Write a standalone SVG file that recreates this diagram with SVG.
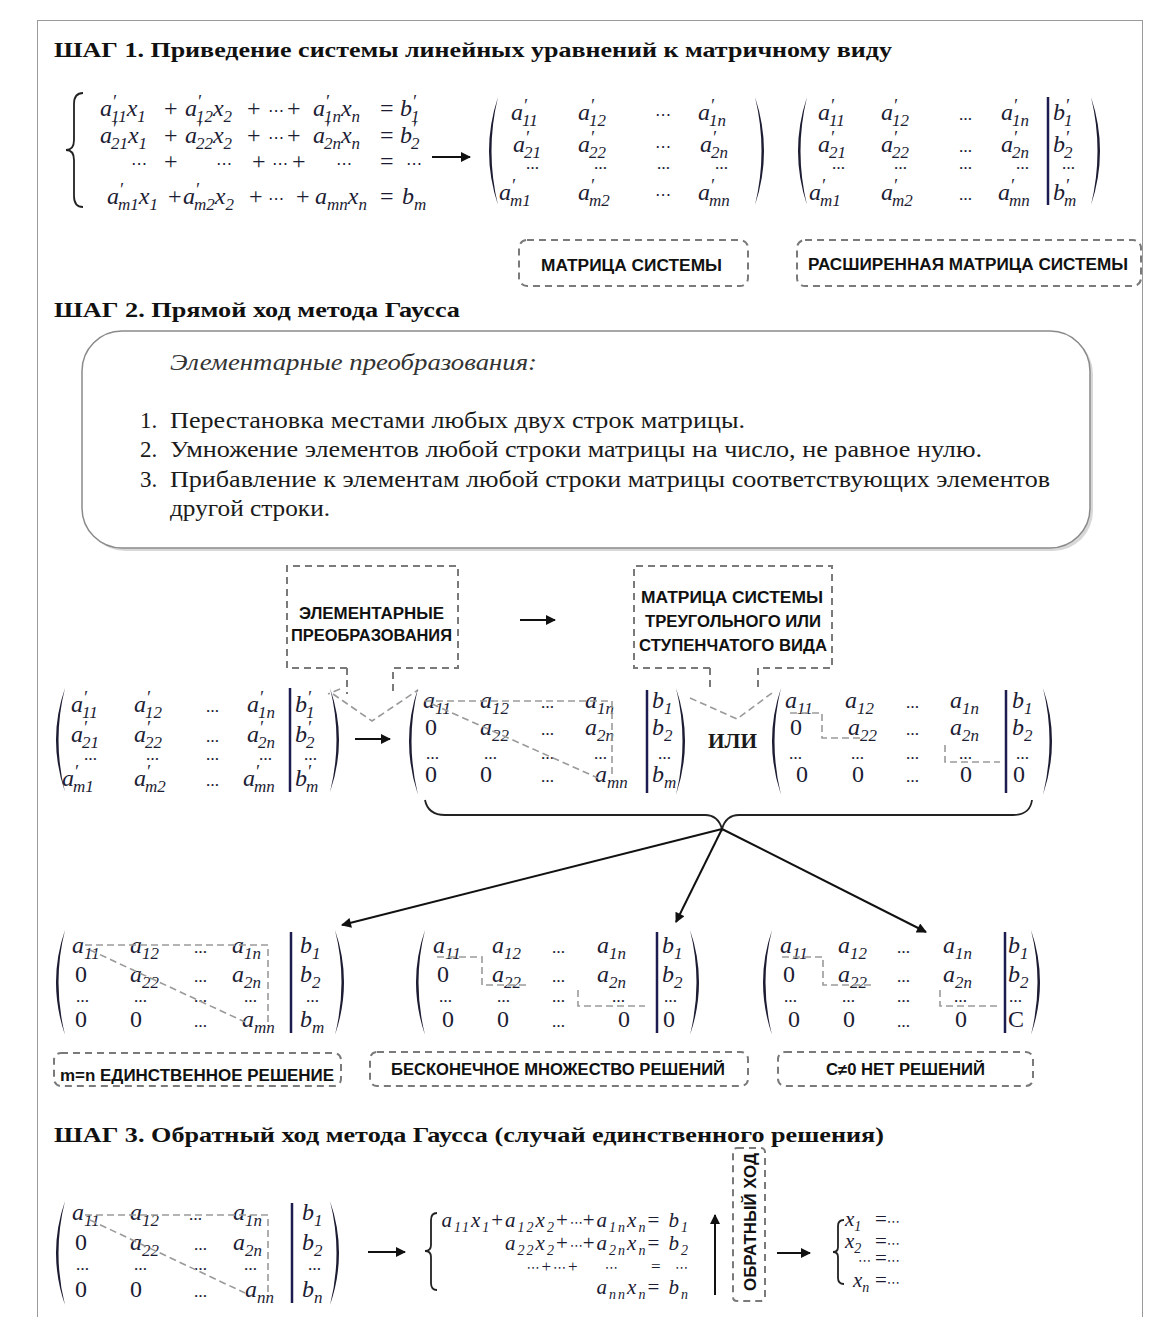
<svg xmlns="http://www.w3.org/2000/svg" width="1153" height="1317" viewBox="0 0 1153 1317">
<defs>
<marker id="ah" viewBox="0 0 10 10" refX="9" refY="5" markerWidth="12" markerHeight="10" orient="auto" markerUnits="userSpaceOnUse"><path d="M0,0 L10,5 L0,10 z" fill="#111"/></marker>
<style>
.h{font-family:"Liberation Serif",serif;font-weight:bold;font-size:22px;fill:#111}
.m{font-family:"Liberation Serif","DejaVu Serif",serif;font-style:italic;font-size:24px;fill:#1c1c33}
.sm{font-size:21px}
.u{font-style:normal}
.s{font-size:17px;baseline-shift:-6px}
.s2{font-size:14px;baseline-shift:-5px}
.p{font-size:18px;baseline-shift:8px}
.d{font-family:"Liberation Serif",serif;font-style:normal;font-weight:bold;font-size:13px;fill:#1c1c33}
.c{font-family:"DejaVu Sans",sans-serif;font-style:normal;font-size:16px;fill:#1c1c33}
.c2{font-family:"DejaVu Sans",sans-serif;font-style:normal;font-size:13px}
.lb{font-family:"Liberation Sans",sans-serif;font-weight:bold;font-size:16px;fill:#111}
.db{fill:none;stroke:#7a7a7a;stroke-width:2;stroke-dasharray:7 5}
.dl{fill:none;stroke:#9a9a9a;stroke-width:1.6;stroke-dasharray:7 4}
.pr{fill:#1c1c33}
.bar{stroke:#1c1c50;stroke-width:2.5}
.ar{stroke:#111;stroke-width:2;fill:none}
.br{fill:none;stroke:#222;stroke-width:1.8}
.t{font-family:"Liberation Serif",serif;font-size:23px;fill:#1a1a1a}
</style>
</defs>
<rect x="0" y="0" width="1153" height="1317" fill="#fff"/>
<rect x="37.5" y="20.5" width="1105" height="1310" fill="none" stroke="#9a9a9a" stroke-width="1"/>

<!-- Headings -->
<text id="h1" class="h" x="54" y="57" textLength="838" lengthAdjust="spacingAndGlyphs">ШАГ 1. Приведение системы линейных уравнений к матричному виду</text>
<text id="h2" class="h" x="54" y="317" textLength="406" lengthAdjust="spacingAndGlyphs">ШАГ 2. Прямой ход метода Гаусса</text>
<text id="h3" class="h" x="54" y="1142" textLength="830" lengthAdjust="spacingAndGlyphs">ШАГ 3. Обратный ход метода Гаусса (случай единственного  решения)</text>

<!-- STEP 1 system -->
<g id="system1">
<path class="br" d="M83,93 Q74,93 74,104 L74,140 Q74,150 66,150 Q74,150 74,160 L74,196 Q74,207 83,207"/>
<text class="m"><tspan x="100" y="116">a</tspan><tspan class="p">′</tspan><tspan class="s" dx="-5">11</tspan>x<tspan class="s">1</tspan><tspan x="164" class="u">+</tspan><tspan x="185">a</tspan><tspan class="p">′</tspan><tspan class="s" dx="-5">12</tspan>x<tspan class="s">2</tspan><tspan x="247" class="u">+</tspan><tspan x="268" class="c">⋯</tspan><tspan x="287" class="u">+</tspan><tspan x="313">a</tspan><tspan class="p">′</tspan><tspan class="s" dx="-5">1n</tspan>x<tspan class="s">n</tspan><tspan x="380" class="u">=</tspan><tspan x="400">b</tspan><tspan class="p">′</tspan><tspan class="s" dx="-5">1</tspan><tspan x="100" y="143">a</tspan><tspan class="p">′</tspan><tspan class="s" dx="-5">21</tspan>x<tspan class="s">1</tspan><tspan x="164" class="u">+</tspan><tspan x="185">a</tspan><tspan class="p">′</tspan><tspan class="s" dx="-5">22</tspan>x<tspan class="s">2</tspan><tspan x="247" class="u">+</tspan><tspan x="268" class="c">⋯</tspan><tspan x="287" class="u">+</tspan><tspan x="313">a</tspan><tspan class="p">′</tspan><tspan class="s" dx="-5">2n</tspan>x<tspan class="s">n</tspan><tspan x="380" class="u">=</tspan><tspan x="400">b</tspan><tspan class="p">′</tspan><tspan class="s" dx="-5">2</tspan><tspan x="131" y="169" class="c">⋯</tspan><tspan x="164" class="u">+</tspan><tspan x="216" class="c">⋯</tspan><tspan x="252" class="u">+</tspan><tspan x="272" class="c">⋯</tspan><tspan x="292" class="u">+</tspan><tspan x="336" class="c">⋯</tspan><tspan x="380" class="u">=</tspan><tspan x="406" class="c">⋯</tspan><tspan x="107" y="204">a</tspan><tspan class="p">′</tspan><tspan class="s" dx="-5">m1</tspan>x<tspan class="s">1</tspan><tspan x="168" class="u">+</tspan><tspan x="183">a</tspan><tspan class="p">′</tspan><tspan class="s" dx="-5">m2</tspan>x<tspan class="s">2</tspan><tspan x="249" class="u">+</tspan><tspan x="268" class="c">⋯</tspan><tspan x="296" class="u">+</tspan><tspan x="315">a</tspan><tspan class="s">mn</tspan>x<tspan class="s">n</tspan><tspan x="380" class="u">=</tspan><tspan x="402">b</tspan><tspan class="s">m</tspan></text>
</g>

<!-- STEP 1 matrix -->
<g id="matrix1">
<path class="pr" d="M498,97 Q480,151 498,205 Q485,151 498,97 Z"/>
<path class="pr" d="M755,97 Q773,151 755,205 Q768,151 755,97 Z"/>
<text class="m"><tspan x="511" y="120">a</tspan><tspan class="p">′</tspan><tspan class="s" dx="-5">11</tspan><tspan x="578">a</tspan><tspan class="p">′</tspan><tspan class="s" dx="-5">12</tspan><tspan x="655" class="c">⋯</tspan><tspan x="698">a</tspan><tspan class="p">′</tspan><tspan class="s" dx="-5">1n</tspan><tspan x="513" y="152">a</tspan><tspan class="p">′</tspan><tspan class="s" dx="-5">21</tspan><tspan x="578">a</tspan><tspan class="p">′</tspan><tspan class="s" dx="-5">22</tspan><tspan x="655" class="c">⋯</tspan><tspan x="700">a</tspan><tspan class="p">′</tspan><tspan class="s" dx="-5">2n</tspan><tspan x="526" y="169" class="d">…</tspan><tspan x="594" class="d">…</tspan><tspan x="657" class="d">…</tspan><tspan x="715" class="d">…</tspan><tspan x="499" y="200">a</tspan><tspan class="p">′</tspan><tspan class="s" dx="-5">m1</tspan><tspan x="578">a</tspan><tspan class="p">′</tspan><tspan class="s" dx="-5">m2</tspan><tspan x="655" class="c">⋯</tspan><tspan x="698">a</tspan><tspan class="p">′</tspan><tspan class="s" dx="-5">mn</tspan></text>
</g>

<!-- STEP 1 augmented matrix -->
<g id="matrix2">
<path class="pr" d="M807,97 Q789,151 807,205 Q794,151 807,97 Z"/>
<path class="pr" d="M1091,97 Q1109,151 1091,205 Q1104,151 1091,97 Z"/>
<line class="bar" x1="1048" y1="97" x2="1048" y2="205"/>
<text class="m"><tspan x="818" y="120">a</tspan><tspan class="p">′</tspan><tspan class="s" dx="-5">11</tspan><tspan x="881">a</tspan><tspan class="p">′</tspan><tspan class="s" dx="-5">12</tspan><tspan x="959" class="d">…</tspan><tspan x="1001">a</tspan><tspan class="p">′</tspan><tspan class="s" dx="-5">1n</tspan><tspan x="1053">b</tspan><tspan class="p">′</tspan><tspan class="s" dx="-5">1</tspan><tspan x="818" y="152">a</tspan><tspan class="p">′</tspan><tspan class="s" dx="-5">21</tspan><tspan x="881">a</tspan><tspan class="p">′</tspan><tspan class="s" dx="-5">22</tspan><tspan x="959" class="d">…</tspan><tspan x="1001">a</tspan><tspan class="p">′</tspan><tspan class="s" dx="-5">2n</tspan><tspan x="1053">b</tspan><tspan class="p">′</tspan><tspan class="s" dx="-5">2</tspan><tspan x="832" y="169" class="d">…</tspan><tspan x="894" class="d">…</tspan><tspan x="959" class="d">…</tspan><tspan x="1016" class="d">…</tspan><tspan x="1062" class="d">…</tspan><tspan x="809" y="200">a</tspan><tspan class="p">′</tspan><tspan class="s" dx="-5">m1</tspan><tspan x="881">a</tspan><tspan class="p">′</tspan><tspan class="s" dx="-5">m2</tspan><tspan x="959" class="d">…</tspan><tspan x="998">a</tspan><tspan class="p">′</tspan><tspan class="s" dx="-5">mn</tspan><tspan x="1053">b</tspan><tspan class="p">′</tspan><tspan class="s" dx="-5">m</tspan></text>
</g>

<g id="label-matrix">
<rect class="db" x="519" y="240" width="229" height="46" rx="8"/>
<text class="lb" x="541" y="271" textLength="181" lengthAdjust="spacingAndGlyphs">МАТРИЦА СИСТЕМЫ</text>
</g>
<g id="label-augmented">
<rect class="db" x="797" y="240" width="344" height="46" rx="8"/>
<text class="lb" x="808" y="270" textLength="320" lengthAdjust="spacingAndGlyphs">РАСШИРЕННАЯ МАТРИЦА СИСТЕМЫ</text>
</g>

<!-- STEP 2 box -->
<g id="transformations">
<rect x="85" y="334" width="1008" height="217" rx="40" fill="#d8d8d8"/>
<rect x="82" y="331" width="1008" height="217" rx="40" fill="#fff" stroke="#8a8a8a" stroke-width="1.5"/>
<text x="170" y="370" font-family="Liberation Serif, serif" font-style="italic" font-size="24" fill="#333" textLength="367" lengthAdjust="spacingAndGlyphs">Элементарные преобразования:</text>
<text class="t" x="140" y="428">1.</text>
<text class="t" x="170" y="428" textLength="575" lengthAdjust="spacingAndGlyphs">Перестановка местами любых двух строк  матрицы.</text>
<text class="t" x="140" y="457">2.</text>
<text class="t" x="170" y="457" textLength="812" lengthAdjust="spacingAndGlyphs">Умножение элементов любой строки матрицы на число, не равное нулю.</text>
<text class="t" x="140" y="487">3.</text>
<text class="t" x="170" y="487" textLength="880" lengthAdjust="spacingAndGlyphs">Прибавление к элементам любой строки матрицы соответствующих  элементов</text>
<text class="t" x="170" y="516" textLength="160" lengthAdjust="spacingAndGlyphs">другой строки.</text>
</g>

<!-- callouts -->
<g id="callout-elementary">
<path class="db" d="M347,668 H287 V566 H458 V668 H393 V692 M347,668 V694"/>
<path class="dl" d="M340,689 L328,694 M333,694 L372,721 L418,690"/>
<text class="lb" x="299" y="619" textLength="145" lengthAdjust="spacingAndGlyphs">ЭЛЕМЕНТАРНЫЕ</text>
<text class="lb" x="291" y="641" textLength="161" lengthAdjust="spacingAndGlyphs">ПРЕОБРАЗОВАНИЯ</text>
</g>
<g id="callout-triangular">
<path class="db" d="M710,668 H634 V566 H832 V668 H758 V690 M710,668 V692"/>
<path class="dl" d="M690,698 L737,719 L772,693"/>
<text class="lb" x="641" y="603" textLength="182" lengthAdjust="spacingAndGlyphs">МАТРИЦА СИСТЕМЫ</text>
<text class="lb" x="645" y="627" textLength="176" lengthAdjust="spacingAndGlyphs">ТРЕУГОЛЬНОГО ИЛИ</text>
<text class="lb" x="639" y="651" textLength="188" lengthAdjust="spacingAndGlyphs">СТУПЕНЧАТОГО ВИДА</text>
</g>

<!-- mid matrix A (augmented, primes) -->
<g id="matrix-a">
<path class="pr" d="M65,688 Q47,740 65,792 Q52,740 65,688 Z"/>
<path class="pr" d="M330,688 Q348,740 330,792 Q343,740 330,688 Z"/>
<line class="bar" x1="290" y1="688" x2="290" y2="792"/>
<text class="m"><tspan x="71" y="712">a</tspan><tspan class="p">′</tspan><tspan class="s" dx="-5">11</tspan><tspan x="134">a</tspan><tspan class="p">′</tspan><tspan class="s" dx="-5">12</tspan><tspan x="206" class="d">…</tspan><tspan x="247">a</tspan><tspan class="p">′</tspan><tspan class="s" dx="-5">1n</tspan><tspan x="295">b</tspan><tspan class="p">′</tspan><tspan class="s" dx="-5">1</tspan><tspan x="71" y="742">a</tspan><tspan class="p">′</tspan><tspan class="s" dx="-5">21</tspan><tspan x="134">a</tspan><tspan class="p">′</tspan><tspan class="s" dx="-5">22</tspan><tspan x="206" class="d">…</tspan><tspan x="247">a</tspan><tspan class="p">′</tspan><tspan class="s" dx="-5">2n</tspan><tspan x="295">b</tspan><tspan class="p">′</tspan><tspan class="s" dx="-5">2</tspan><tspan x="84" y="760" class="d">…</tspan><tspan x="146" class="d">…</tspan><tspan x="206" class="d">…</tspan><tspan x="259" class="d">…</tspan><tspan x="304" class="d">…</tspan><tspan x="62" y="786">a</tspan><tspan class="p">′</tspan><tspan class="s" dx="-5">m1</tspan><tspan x="134">a</tspan><tspan class="p">′</tspan><tspan class="s" dx="-5">m2</tspan><tspan x="206" class="d">…</tspan><tspan x="243">a</tspan><tspan class="p">′</tspan><tspan class="s" dx="-5">mn</tspan><tspan x="295">b</tspan><tspan class="p">′</tspan><tspan class="s" dx="-5">m</tspan></text>
</g>

<!-- mid matrix B (triangular) -->
<g id="matrix-b">
<path class="pr" d="M418,688 Q400,741 418,795 Q405,741 418,688 Z"/>
<path class="pr" d="M676,688 Q694,741 676,795 Q689,741 676,688 Z"/>
<line class="bar" x1="647" y1="690" x2="647" y2="793"/>
<text class="m"><tspan x="423" y="708">a</tspan><tspan class="s">11</tspan><tspan x="480">a</tspan><tspan class="s">12</tspan><tspan x="541" class="d">…</tspan><tspan x="585">a</tspan><tspan class="s">1n</tspan><tspan x="652">b</tspan><tspan class="s">1</tspan><tspan x="425" y="735" class="u">0</tspan><tspan x="480">a</tspan><tspan class="s">22</tspan><tspan x="541" class="d">…</tspan><tspan x="585">a</tspan><tspan class="s">2n</tspan><tspan x="652">b</tspan><tspan class="s">2</tspan><tspan x="426" y="759" class="d">…</tspan><tspan x="484" class="d">…</tspan><tspan x="541" class="d">…</tspan><tspan x="594" class="d">…</tspan><tspan x="658" class="d">…</tspan><tspan x="425" y="782" class="u">0</tspan><tspan x="480" class="u">0</tspan><tspan x="541" class="d">…</tspan><tspan x="595">a</tspan><tspan class="s">mn</tspan><tspan x="652">b</tspan><tspan class="s">m</tspan></text>
<path class="dl" d="M425,701 H612 V778 M432,704 L598,778"/>
</g>

<text id="or" x="708" y="748" font-family="Liberation Serif, serif" font-weight="bold" font-size="22" fill="#1a1a1a" textLength="49" lengthAdjust="spacingAndGlyphs">ИЛИ</text>

<!-- mid matrix C (step) -->
<g id="matrix-c">
<path class="pr" d="M781,688 Q763,741 781,795 Q768,741 781,688 Z"/>
<path class="pr" d="M1043,688 Q1061,741 1043,795 Q1056,741 1043,688 Z"/>
<line class="bar" x1="1006" y1="690" x2="1006" y2="793"/>
<text class="m"><tspan x="785" y="708">a</tspan><tspan class="s">11</tspan><tspan x="845">a</tspan><tspan class="s">12</tspan><tspan x="906" class="d">…</tspan><tspan x="950">a</tspan><tspan class="s">1n</tspan><tspan x="1012">b</tspan><tspan class="s">1</tspan><tspan x="790" y="735" class="u">0</tspan><tspan x="848">a</tspan><tspan class="s">22</tspan><tspan x="906" class="d">…</tspan><tspan x="950">a</tspan><tspan class="s">2n</tspan><tspan x="1012">b</tspan><tspan class="s">2</tspan><tspan x="789" y="759" class="d">…</tspan><tspan x="851" class="d">…</tspan><tspan x="906" class="d">…</tspan><tspan x="959" class="d">…</tspan><tspan x="1016" class="d">…</tspan><tspan x="796" y="782" class="u">0</tspan><tspan x="852" class="u">0</tspan><tspan x="906" class="d">…</tspan><tspan x="960" class="u">0</tspan><tspan x="1013" class="u">0</tspan></text>
<path class="dl" d="M790,713 H822 V738 H862 M945,745 V762 H1000"/>
</g>

<!-- bottom matrix 1 -->
<g id="matrix-unique">
<path class="pr" d="M65,930 Q47,982 65,1035 Q52,982 65,930 Z"/>
<path class="pr" d="M335,930 Q353,982 335,1035 Q348,982 335,930 Z"/>
<line class="bar" x1="291" y1="932" x2="291" y2="1033"/>
<text class="m"><tspan x="72" y="953">a</tspan><tspan class="s">11</tspan><tspan x="130">a</tspan><tspan class="s">12</tspan><tspan x="194" class="d">…</tspan><tspan x="232">a</tspan><tspan class="s">1n</tspan><tspan x="300">b</tspan><tspan class="s">1</tspan><tspan x="75" y="982" class="u">0</tspan><tspan x="130">a</tspan><tspan class="s">22</tspan><tspan x="194" class="d">…</tspan><tspan x="232">a</tspan><tspan class="s">2n</tspan><tspan x="300">b</tspan><tspan class="s">2</tspan><tspan x="76" y="1002" class="d">…</tspan><tspan x="134" class="d">…</tspan><tspan x="194" class="d">…</tspan><tspan x="244" class="d">…</tspan><tspan x="306" class="d">…</tspan><tspan x="75" y="1027" class="u">0</tspan><tspan x="130" class="u">0</tspan><tspan x="194" class="d">…</tspan><tspan x="242">a</tspan><tspan class="s">mn</tspan><tspan x="300">b</tspan><tspan class="s">m</tspan></text>
<path class="dl" d="M85,945 H268 V1022 M90,950 L245,1022"/>
</g>

<!-- bottom matrix 2 -->
<g id="matrix-infinite">
<path class="pr" d="M425,930 Q407,982 425,1035 Q412,982 425,930 Z"/>
<path class="pr" d="M690,930 Q708,982 690,1035 Q703,982 690,930 Z"/>
<line class="bar" x1="657" y1="932" x2="657" y2="1033"/>
<text class="m"><tspan x="433" y="953">a</tspan><tspan class="s">11</tspan><tspan x="492">a</tspan><tspan class="s">12</tspan><tspan x="552" class="d">…</tspan><tspan x="597">a</tspan><tspan class="s">1n</tspan><tspan x="662">b</tspan><tspan class="s">1</tspan><tspan x="437" y="982" class="u">0</tspan><tspan x="492">a</tspan><tspan class="s">22</tspan><tspan x="552" class="d">…</tspan><tspan x="597">a</tspan><tspan class="s">2n</tspan><tspan x="662">b</tspan><tspan class="s">2</tspan><tspan x="439" y="1002" class="d">…</tspan><tspan x="497" class="d">…</tspan><tspan x="552" class="d">…</tspan><tspan x="612" class="d">…</tspan><tspan x="664" class="d">…</tspan><tspan x="442" y="1027" class="u">0</tspan><tspan x="497" class="u">0</tspan><tspan x="552" class="d">…</tspan><tspan x="618" class="u">0</tspan><tspan x="663" class="u">0</tspan></text>
<path class="dl" d="M437,957 H482 V985 H530 M578,990 V1006 H645"/>
</g>

<!-- bottom matrix 3 -->
<g id="matrix-none">
<path class="pr" d="M772,930 Q754,982 772,1035 Q759,982 772,930 Z"/>
<path class="pr" d="M1031,930 Q1049,982 1031,1035 Q1044,982 1031,930 Z"/>
<line class="bar" x1="1005" y1="932" x2="1005" y2="1033"/>
<text class="m"><tspan x="780" y="953">a</tspan><tspan class="s">11</tspan><tspan x="838">a</tspan><tspan class="s">12</tspan><tspan x="897" class="d">…</tspan><tspan x="943">a</tspan><tspan class="s">1n</tspan><tspan x="1008">b</tspan><tspan class="s">1</tspan><tspan x="783" y="982" class="u">0</tspan><tspan x="838">a</tspan><tspan class="s">22</tspan><tspan x="897" class="d">…</tspan><tspan x="943">a</tspan><tspan class="s">2n</tspan><tspan x="1008">b</tspan><tspan class="s">2</tspan><tspan x="784" y="1002" class="d">…</tspan><tspan x="842" class="d">…</tspan><tspan x="897" class="d">…</tspan><tspan x="954" class="d">…</tspan><tspan x="1009" class="d">…</tspan><tspan x="788" y="1027" class="u">0</tspan><tspan x="843" class="u">0</tspan><tspan x="897" class="d">…</tspan><tspan x="955" class="u">0</tspan><tspan x="1008" class="u">C</tspan></text>
<path class="dl" d="M782,957 H823 V985 H875 M940,990 V1006 H1000"/>
</g>

<g id="label-unique">
<rect class="db" x="54" y="1053" width="287" height="33" rx="7"/>
<text class="lb" x="60" y="1081" textLength="274" lengthAdjust="spacingAndGlyphs">m=n ЕДИНСТВЕННОЕ РЕШЕНИЕ</text>
</g>
<g id="label-infinite">
<rect class="db" x="370" y="1052" width="378" height="34" rx="7"/>
<text class="lb" x="391" y="1075" textLength="334" lengthAdjust="spacingAndGlyphs">БЕСКОНЕЧНОЕ МНОЖЕСТВО РЕШЕНИЙ</text>
</g>
<g id="label-none">
<rect class="db" x="778" y="1052" width="255" height="34" rx="7"/>
<text class="lb" x="826" y="1075" textLength="159" lengthAdjust="spacingAndGlyphs">C≠0 НЕТ РЕШЕНИЙ</text>
</g>

<!-- STEP 3 matrix -->
<g id="matrix-back">
<path class="pr" d="M65,1201 Q47,1253 65,1305 Q52,1253 65,1201 Z"/>
<path class="pr" d="M330,1201 Q348,1253 330,1305 Q343,1253 330,1201 Z"/>
<line class="bar" x1="292" y1="1203" x2="292" y2="1303"/>
<text class="m"><tspan x="72" y="1220">a</tspan><tspan class="s">11</tspan><tspan x="130">a</tspan><tspan class="s">12</tspan><tspan x="189" class="d">…</tspan><tspan x="233">a</tspan><tspan class="s">1n</tspan><tspan x="302">b</tspan><tspan class="s">1</tspan><tspan x="75" y="1250" class="u">0</tspan><tspan x="130">a</tspan><tspan class="s">22</tspan><tspan x="194" class="d">…</tspan><tspan x="233">a</tspan><tspan class="s">2n</tspan><tspan x="302">b</tspan><tspan class="s">2</tspan><tspan x="76" y="1270" class="d">…</tspan><tspan x="134" class="d">…</tspan><tspan x="194" class="d">…</tspan><tspan x="244" class="d">…</tspan><tspan x="308" class="d">…</tspan><tspan x="75" y="1297" class="u">0</tspan><tspan x="130" class="u">0</tspan><tspan x="194" class="d">…</tspan><tspan x="245">a</tspan><tspan class="s">nn</tspan><tspan x="302">b</tspan><tspan class="s">n</tspan></text>
<path class="dl" d="M85,1215 H268 V1295 M90,1220 L245,1293"/>
</g>

<g id="system-back">
<path class="br" d="M437,1213 Q431,1213 431,1220 L431,1245 Q431,1251 425,1251 Q431,1251 431,1257 L431,1283 Q431,1290 437,1290"/>
<text class="m sm" text-anchor="end" style="letter-spacing:2px"><tspan x="690" y="1227">a<tspan class="s2">11</tspan>x<tspan class="s2">1</tspan><tspan class="u">+</tspan>a<tspan class="s2">12</tspan>x<tspan class="s2">2</tspan><tspan class="u">+</tspan><tspan class="c2" style="letter-spacing:0">⋯</tspan><tspan class="u">+</tspan>a<tspan class="s2">1n</tspan>x<tspan class="s2">n</tspan><tspan class="u">= </tspan>b<tspan class="s2">1</tspan></tspan><tspan x="690" y="1250">a<tspan class="s2">22</tspan>x<tspan class="s2">2</tspan><tspan class="u">+</tspan><tspan class="c2" style="letter-spacing:0">⋯</tspan><tspan class="u">+</tspan>a<tspan class="s2">2n</tspan>x<tspan class="s2">n</tspan><tspan class="u">= </tspan>b<tspan class="s2">2</tspan></tspan><tspan x="690" y="1272" xml:space="preserve" font-size="17"><tspan class="c2">⋯</tspan><tspan class="u">+</tspan><tspan class="c2">⋯</tspan><tspan class="u">+    </tspan><tspan class="c2">⋯</tspan><tspan class="u">     =  </tspan><tspan class="c2">⋯</tspan></tspan><tspan x="690" y="1294">a<tspan class="s2">nn</tspan>x<tspan class="s2">n</tspan><tspan class="u">= </tspan>b<tspan class="s2">n</tspan></tspan></text>
</g>

<g id="label-back">
<rect class="db" x="733" y="1148" width="32" height="153" rx="4"/>
<text class="lb" transform="translate(756,1222) rotate(-90)" text-anchor="middle" textLength="138" lengthAdjust="spacingAndGlyphs">ОБРАТНЫЙ ХОД</text>
</g>

<g id="solution">
<path class="br" d="M844,1220 Q838,1220 838,1226 L838,1247 Q838,1252 833,1252 Q838,1252 838,1257 L838,1278 Q838,1284 844,1284"/>
<text class="m sm"><tspan x="845" y="1226">x</tspan><tspan class="s2">1</tspan><tspan x="875" class="u">=</tspan><tspan class="c2">⋯</tspan><tspan x="845" y="1248">x</tspan><tspan class="s2">2</tspan><tspan x="875" class="u">=</tspan><tspan class="c2">⋯</tspan><tspan x="858" y="1265" class="c2">⋯</tspan><tspan x="875" class="u">=</tspan><tspan class="c2">⋯</tspan><tspan x="853" y="1287">x</tspan><tspan class="s2">n</tspan><tspan x="875" class="u">=</tspan><tspan class="c2">⋯</tspan></text>
</g>

<!-- connectors -->
<g id="connectors">
<line class="ar" x1="432" y1="157" x2="470" y2="157" marker-end="url(#ah)"/>
<line class="ar" x1="520" y1="620" x2="555" y2="620" marker-end="url(#ah)"/>
<line class="ar" x1="355" y1="739" x2="390" y2="739" marker-end="url(#ah)"/>
<path class="br" d="M425,800 Q428,815 445,815 L705,815 Q718,815 722,829 Q726,815 739,815 L1013,815 Q1030,815 1032,800"/>
<line class="ar" x1="722" y1="829" x2="342" y2="925" marker-end="url(#ah)"/>
<line class="ar" x1="722" y1="829" x2="676" y2="922" marker-end="url(#ah)"/>
<line class="ar" x1="722" y1="829" x2="926" y2="932" marker-end="url(#ah)"/>
<line class="ar" x1="368" y1="1252" x2="405" y2="1252" marker-end="url(#ah)"/>
<line class="ar" x1="715" y1="1295" x2="715" y2="1215" marker-end="url(#ah)"/>
<line class="ar" x1="777" y1="1253" x2="810" y2="1253" marker-end="url(#ah)"/>
</g>
</svg>
